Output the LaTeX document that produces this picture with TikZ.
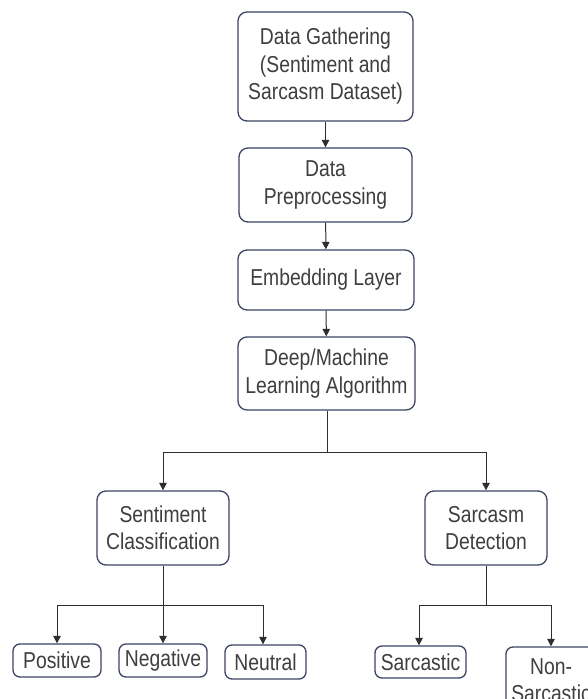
\documentclass[tikz,border=0pt]{standalone}
\usepackage{fontspec}
\setmainfont{Liberation Sans}[FakeStretch=0.84]
\usetikzlibrary{arrows.meta}
\definecolor{boxline}{HTML}{3C4563}
\definecolor{txt}{HTML}{3F3F3F}
\definecolor{conn}{HTML}{2E2E2E}
\tikzset{
  stepbox/.style={draw=boxline, line width=1.3pt, rounded corners=9pt, fill=white,
    align=center, text=txt, inner sep=0pt, font=\fontsize{23}{27.5}\selectfont},
  leafbox/.style={stepbox, rounded corners=7pt},
  conn/.style={draw=conn, line width=1pt},
  arr/.style={conn, -{Triangle[width=7.5pt,length=7.5pt]}}
}
\begin{document}
\begin{tikzpicture}[x=1pt,y=-1pt]
\useasboundingbox (0,0) rectangle (588,699);
\clip (0,0) rectangle (588,699);
\fill[white] (0,0) rectangle (588,699);

\node[stepbox, minimum width=175pt, minimum height=109pt] (gather) at (325.5,66.5)
  {Data Gathering\\(Sentiment and\\Sarcasm Dataset)};
\node[stepbox, minimum width=173pt, minimum height=74pt] (prep) at (325.5,185)
  {Data\\Preprocessing};
\node[stepbox, minimum width=176pt, minimum height=60pt] (embed) at (326,280)
  {Embedding Layer};
\node[stepbox, minimum width=177pt, minimum height=73pt] (algo) at (326.5,373.5)
  {Deep/Machine\\Learning Algorithm};

\node[stepbox, minimum width=132pt, minimum height=74pt] (sent) at (163,528)
  {Sentiment\\Classification};
\node[stepbox, minimum width=122pt, minimum height=74pt] (sarc) at (486,528)
  {Sarcasm\\Detection};

\node[leafbox, minimum width=88pt, minimum height=33pt] (pos) at (57,660.5) {Positive};
\node[leafbox, minimum width=88pt, minimum height=33pt] (neg) at (163,660.5) {Negative};
\node[leafbox, minimum width=81pt, minimum height=34pt] (neu) at (265.5,662) {Neutral};
\node[leafbox, minimum width=91pt, minimum height=32pt] (sarcastic) at (420.5,662) {Sarcastic};
\node[leafbox, minimum width=90pt, minimum height=66pt] (nonsarc) at (551,680) {Non-\\Sarcastic};

\draw[arr] (gather) -- (prep);
\draw[arr] (prep) -- (embed);
\draw[arr] (embed) -- (algo);

\coordinate (j1) at (327,452);
\draw[conn] (algo.south -| j1) -- (j1);
\draw[arr] (j1) -| (sent.north);
\draw[arr] (j1) -| (sarc.north);

\coordinate (j2) at (163,605);
\draw[conn] (sent.south) -- (j2);
\draw[arr] (j2) -| (pos.north);
\draw[arr] (j2) -- (neg.north);
\draw[arr] (j2) -| ([xshift=-2.5pt]neu.north);

\coordinate (j3) at (486,605);
\draw[conn] (sarc.south) -- (j3);
\draw[arr] (j3) -| ([xshift=-1.5pt]sarcastic.north);
\draw[arr] (j3) -| (nonsarc.north);
\end{tikzpicture}
\end{document}
